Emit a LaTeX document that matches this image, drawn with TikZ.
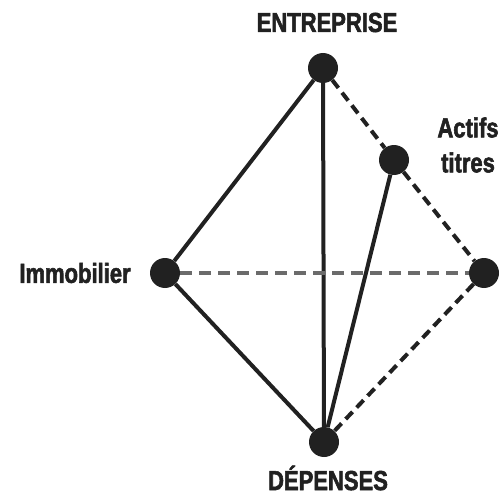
\documentclass[tikz,border=0pt]{standalone}
\usepackage{fontspec}
\newfontfamily\lblfont{Liberation Sans Bold}[FakeStretch=0.8, FakeBold=2]
\usepackage{tikz}
\usetikzlibrary{positioning, backgrounds}

\begin{document}
\begin{tikzpicture}[
    x=1pt, y=-1pt,
    % Styles des points et des textes
    dot/.style={circle, fill=black!87, minimum size=30pt, inner sep=0pt},
    lbl/.style={font=\fontsize{27.5}{35}\lblfont, text=black!87, inner sep=0pt},
    % Styles des traits
    plein/.style={draw=black!87, line width=4pt},
    tirets/.style={draw=black!87, line width=4pt, dash pattern=on 10pt off 6pt},
    gris/.style={draw=black!58, line width=4.4pt, dash pattern=on 12pt off 7pt}
]
\useasboundingbox (0,0) rectangle (504,495);

% Les sommets
\node[dot] (ent) at (323,68) {};
\node[dot] (act) at (394,160) {};
\node[dot] (imm) at (165,273) {};
\node[dot] (rgt) at (484,273) {};
\node[dot] (dep) at (324,442) {};

% Les étiquettes
\node[lbl] (entlbl) at (327,22.5) {ENTREPRISE};
\node[lbl, align=center] (actlbl) at (468,145) {Actifs\\titres};
\node[lbl] (immlbl) at (75,273) {Immobilier};
\node[lbl] (deplbl) at (328,478) {DÉPENSES};

% Les liaisons
\begin{scope}[on background layer]
    \draw[plein] (ent) -- (imm);
    \draw[plein] (ent) -- (dep);
    \draw[plein] (imm) -- (dep);
    \draw[plein] (act) -- (dep);
    \draw[tirets] (ent) -- (act);
    \draw[tirets] (act) -- (rgt);
    \draw[tirets] (rgt) -- (dep);
    \draw[gris] (imm) -- (rgt);
\end{scope}

\end{tikzpicture}
\end{document}
